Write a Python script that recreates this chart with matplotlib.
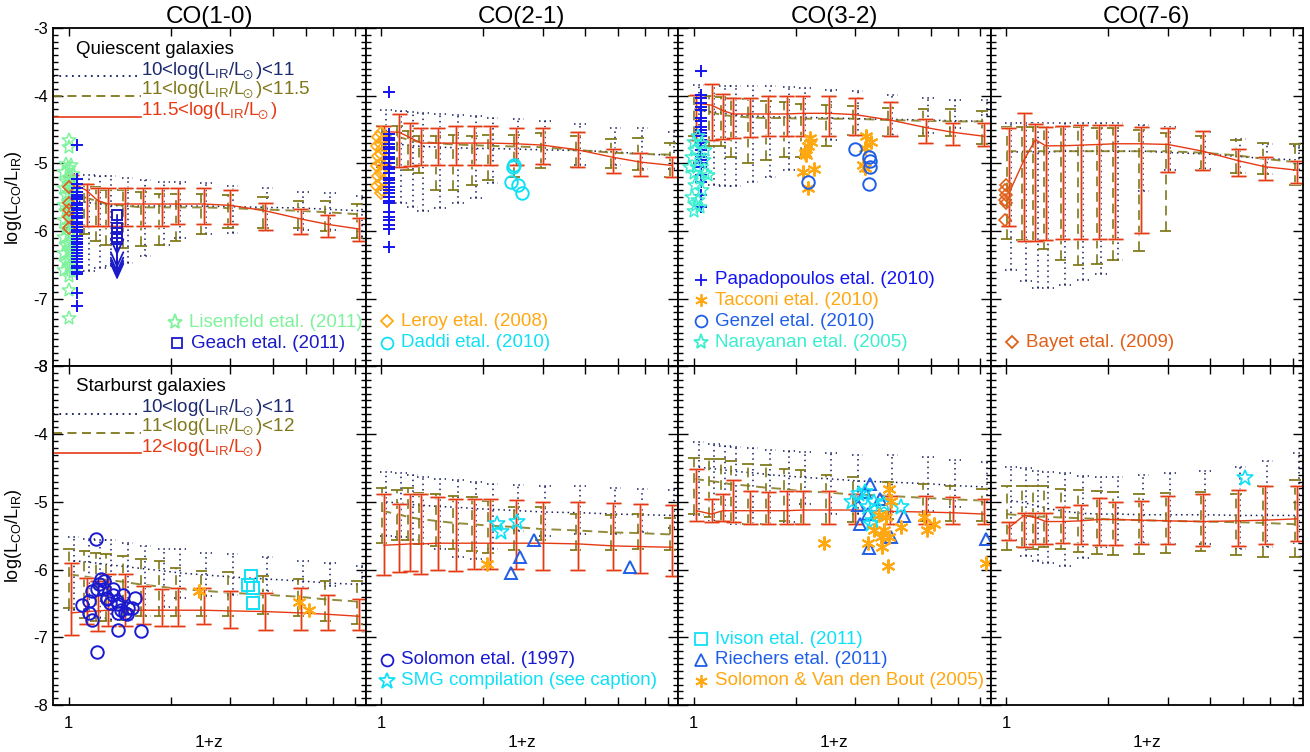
import matplotlib
matplotlib.use("Agg")
import numpy as np
import matplotlib.pyplot as plt
from matplotlib.ticker import FixedLocator, FixedFormatter, MultipleLocator, NullFormatter

plt.rcParams['font.family'] = ['Liberation Sans', 'DejaVu Sans']
plt.rcParams['axes.unicode_minus'] = False
plt.rcParams['mathtext.default'] = 'regular'

# ---------------- model grid (1+z) ----------------
zgrid = [1.02, 1.13, 1.22, 1.31, 1.47, 1.66, 1.88, 2.10, 2.50, 3.00, 3.80, 4.83, 5.80, 7.20]

# ---------------- Quiescent CO(1-0) ----------------
q10_dot_mid = [-5.55, -5.58, -5.60, -5.62, -5.63, -5.63, -5.63, -5.63, -5.63, -5.64, -5.65, -5.66, -5.68, -5.70]
q10_dot_hi = [-5.15, -5.17, -5.18, -5.19, -5.22, -5.25, -5.27, -5.27, -5.29, -5.33, -5.36, -5.42, -5.43, -5.48]
q10_dot_lo = [-6.45, -6.59, -6.55, -6.52, -6.47, -6.37, -6.20, -6.10, -6.05, -6.03, -6.00, -5.98, -5.98, -6.08]
q10_ols_mid = [-5.45, -5.50, -5.55, -5.60, -5.62, -5.65, -5.65, -5.65, -5.65, -5.66, -5.68, -5.70, -5.72, -5.75]
q10_ols_hi = [-5.20, -5.30, -5.35, -5.40, -5.40, -5.42, -5.45, -5.45, -5.45, -5.47, -5.50, -5.55, -5.55, -5.60]
q10_ols_lo = [-5.95, -6.05, -6.15, -6.20, -6.25, -6.22, -6.20, -6.15, -6.05, -5.95, -5.95, -5.95, -6.00, -6.10]
q10_red_mid = [-5.28, -5.40, -5.55, -5.60, -5.60, -5.60, -5.60, -5.60, -5.60, -5.62, -5.70, -5.82, -5.90, -5.97]
q10_red_hi = [-5.17, -5.30, -5.36, -5.36, -5.36, -5.36, -5.36, -5.37, -5.37, -5.39, -5.58, -5.68, -5.76, -5.80]
q10_red_lo = [-5.90, -5.92, -5.92, -5.92, -5.92, -5.92, -5.92, -5.90, -5.90, -5.90, -5.98, -6.05, -6.09, -6.15]

# ---------------- Quiescent CO(2-1) ----------------
q21_dot_mid = [-4.70, -4.72, -4.74, -4.75, -4.76, -4.77, -4.78, -4.78, -4.79, -4.80, -4.81, -4.83, -4.86, -4.88]
q21_dot_hi = [-4.21, -4.22, -4.24, -4.26, -4.27, -4.28, -4.30, -4.33, -4.35, -4.38, -4.42, -4.47, -4.48, -4.53]
q21_dot_lo = [-5.40, -5.59, -5.65, -5.71, -5.66, -5.59, -5.51, -5.29, -5.02, -5.02, -5.02, -5.02, -5.09, -5.09]
q21_ols_mid = [-4.58, -4.60, -4.65, -4.68, -4.70, -4.72, -4.73, -4.74, -4.75, -4.76, -4.80, -4.84, -4.86, -4.87]
q21_ols_hi = [-4.45, -4.45, -4.52, -4.60, -4.60, -4.58, -4.60, -4.58, -4.58, -4.55, -4.59, -4.64, -4.63, -4.70]
q21_ols_lo = [-5.05, -5.05, -5.10, -5.14, -5.39, -5.39, -5.32, -5.24, -5.20, -5.07, -5.05, -5.07, -5.10, -5.20]
q21_red_mid = [-4.53, -4.54, -4.62, -4.70, -4.70, -4.70, -4.70, -4.70, -4.71, -4.73, -4.80, -4.91, -4.98, -5.03]
q21_red_hi = [-4.45, -4.27, -4.40, -4.47, -4.47, -4.45, -4.45, -4.45, -4.47, -4.48, -4.53, -4.78, -4.84, -4.90]
q21_red_lo = [-5.02, -5.05, -5.04, -5.03, -5.03, -5.03, -5.03, -5.03, -5.03, -5.01, -5.05, -5.14, -5.18, -5.20]

# ---------------- Quiescent CO(3-2) ----------------
q32_dot_mid = [-4.22, -4.24, -4.26, -4.28, -4.30, -4.31, -4.32, -4.32, -4.33, -4.34, -4.35, -4.36, -4.37, -4.38]
q32_dot_hi = [-3.84, -3.84, -3.85, -3.85, -3.86, -3.86, -3.87, -3.88, -3.91, -3.93, -3.99, -4.04, -4.06, -4.06]
q32_dot_lo = [-5.00, -5.32, -5.34, -5.34, -5.27, -5.20, -5.10, -4.92, -4.65, -4.60, -4.58, -4.55, -4.48, -4.28]
q32_ols_mid = [-4.20, -4.24, -4.28, -4.30, -4.32, -4.33, -4.33, -4.34, -4.34, -4.34, -4.36, -4.37, -4.38, -4.38]
q32_ols_hi = [-4.01, -4.01, -4.02, -4.04, -4.05, -4.08, -4.10, -4.12, -4.14, -4.15, -4.18, -4.20, -4.20, -4.22]
q32_ols_lo = [-4.60, -4.75, -4.75, -4.90, -5.00, -4.95, -4.90, -4.90, -4.75, -4.58, -4.60, -4.60, -4.60, -4.72]
q32_red_mid = [-4.11, -4.14, -4.22, -4.27, -4.27, -4.27, -4.27, -4.26, -4.26, -4.28, -4.36, -4.47, -4.54, -4.60]
q32_red_hi = [-3.99, -3.83, -3.98, -4.03, -4.03, -4.00, -4.01, -4.01, -4.01, -4.04, -4.09, -4.34, -4.40, -4.41]
q32_red_lo = [-4.65, -4.65, -4.64, -4.63, -4.61, -4.60, -4.60, -4.60, -4.59, -4.58, -4.60, -4.70, -4.73, -4.75]

# ---------------- Quiescent CO(7-6) ----------------
q76_dot_mid = [-4.83, -4.83, -4.83, -4.83, -4.82, -4.82, -4.82, -4.82, -4.82, -4.84, -4.86, -4.90, -4.93, -4.95]
q76_dot_hi = [-4.40, -4.40, -4.40, -4.40, -4.40, -4.40, -4.40, -4.41, -4.43, -4.46, -4.53, -4.64, -4.72, -4.75]
q76_dot_lo = [-6.57, -6.74, -6.84, -6.84, -6.80, -6.72, -6.64, -6.42, -5.41, -5.10, -5.08, -5.14, -5.15, -5.10]
q76_ols_mid = [-4.82, -4.82, -4.82, -4.82, -4.82, -4.82, -4.82, -4.82, -4.82, -4.82, -4.84, -4.88, -4.93, -4.98]
q76_ols_hi = [-4.46, -4.46, -4.46, -4.46, -4.46, -4.46, -4.47, -4.47, -4.50, -4.55, -4.60, -4.66, -4.70, -4.72]
q76_ols_lo = [-6.12, -6.13, -6.15, -6.27, -6.42, -6.50, -6.48, -6.42, -6.30, -6.00, -5.10, -5.14, -5.16, -5.32]
q76_red_mid = [-5.44, -4.95, -4.65, -4.74, -4.74, -4.73, -4.72, -4.71, -4.71, -4.72, -4.82, -4.96, -5.05, -5.10]
q76_red_hi = [-4.48, -4.26, -4.42, -4.46, -4.45, -4.43, -4.44, -4.44, -4.46, -4.47, -4.52, -4.79, -4.90, -4.96]
q76_red_lo = [-5.92, -6.15, -6.15, -6.13, -6.12, -6.12, -6.12, -6.12, -6.03, -5.13, -5.10, -5.19, -5.24, -5.29]

# ---------------- Starburst CO(1-0) ----------------
s10_dot_mid = [-5.87, -5.89, -5.91, -5.93, -5.96, -5.99, -6.02, -6.05, -6.08, -6.11, -6.14, -6.17, -6.20, -6.22]
s10_dot_hi = [-5.52, -5.55, -5.57, -5.57, -5.60, -5.65, -5.70, -5.70, -5.75, -5.77, -5.82, -5.87, -5.90, -5.95]
s10_dot_lo = [-6.60, -6.69, -6.71, -6.74, -6.74, -6.69, -6.55, -6.42, -6.39, -6.37, -6.32, -6.27, -6.24, -6.22]
s10_ols_mid = [-6.07, -6.10, -6.13, -6.15, -6.18, -6.22, -6.25, -6.28, -6.31, -6.34, -6.37, -6.40, -6.44, -6.47]
s10_ols_hi = [-5.70, -5.72, -5.75, -5.77, -5.80, -5.85, -5.87, -5.97, -6.02, -6.04, -6.09, -6.14, -6.17, -6.17]
s10_ols_lo = [-6.56, -6.71, -6.76, -6.76, -6.74, -6.69, -6.69, -6.69, -6.69, -6.69, -6.66, -6.69, -6.76, -6.81]
s10_red_mid = [-6.64, -6.62, -6.61, -6.60, -6.60, -6.60, -6.60, -6.60, -6.60, -6.61, -6.62, -6.64, -6.66, -6.69]
s10_red_hi = [-5.90, -6.12, -6.17, -6.07, -6.07, -6.24, -6.29, -6.27, -6.27, -6.32, -6.34, -6.27, -6.37, -6.44]
s10_red_lo = [-6.96, -6.81, -6.91, -6.84, -6.84, -6.81, -6.84, -6.84, -6.81, -6.86, -6.89, -6.89, -6.89, -6.89]

# ---------------- Starburst CO(2-1) ----------------
s21_dot_mid = [-5.00, -5.02, -5.04, -5.05, -5.07, -5.08, -5.10, -5.11, -5.13, -5.15, -5.16, -5.18, -5.19, -5.20]
s21_dot_hi = [-4.56, -4.57, -4.61, -4.63, -4.66, -4.68, -4.71, -4.73, -4.75, -4.76, -4.77, -4.79, -4.81, -4.83]
s21_dot_lo = [-5.50, -5.52, -5.57, -5.62, -5.70, -5.82, -5.85, -5.70, -5.43, -5.50, -5.48, -5.48, -5.45, -5.38]
s21_ols_mid = [-5.13, -5.18, -5.22, -5.25, -5.28, -5.31, -5.33, -5.35, -5.37, -5.40, -5.42, -5.45, -5.46, -5.48]
s21_ols_hi = [-4.79, -4.82, -4.79, -4.87, -4.89, -4.92, -4.93, -4.98, -5.08, -5.08, -5.18, -5.20, -5.18, -5.24]
s21_ols_lo = [-5.60, -5.57, -5.57, -5.62, -5.65, -5.70, -5.72, -5.75, -5.71, -5.57, -5.71, -5.71, -5.70, -5.71]
s21_red_mid = [-5.64, -5.63, -5.62, -5.62, -5.61, -5.61, -5.61, -5.61, -5.61, -5.61, -5.62, -5.65, -5.66, -5.67]
s21_red_hi = [-4.89, -5.03, -4.89, -4.89, -4.93, -4.96, -4.96, -4.96, -4.97, -5.00, -5.00, -5.02, -5.03, -5.04]
s21_red_lo = [-6.08, -6.03, -6.02, -6.06, -6.01, -6.02, -5.99, -5.99, -5.99, -6.00, -6.01, -6.01, -6.05, -6.09]

# ---------------- Starburst CO(3-2) ----------------
s32_dot_mid = [-4.49, -4.51, -4.53, -4.55, -4.57, -4.60, -4.62, -4.64, -4.66, -4.69, -4.71, -4.73, -4.76, -4.78]
s32_dot_hi = [-4.11, -4.14, -4.18, -4.19, -4.20, -4.23, -4.25, -4.26, -4.28, -4.30, -4.31, -4.34, -4.38, -4.41]
s32_dot_lo = [-5.20, -5.28, -5.30, -5.33, -5.33, -5.33, -5.30, -5.03, -5.18, -5.18, -5.15, -5.13, -5.08, -4.98]
s32_ols_mid = [-4.66, -4.69, -4.71, -4.74, -4.76, -4.79, -4.81, -4.84, -4.86, -4.89, -4.91, -4.94, -4.96, -4.98]
s32_ols_hi = [-4.35, -4.36, -4.36, -4.39, -4.44, -4.46, -4.51, -4.53, -4.61, -4.63, -4.71, -4.73, -4.76, -4.81]
s32_ols_lo = [-5.18, -5.23, -5.28, -5.30, -5.33, -5.33, -5.28, -5.33, -5.33, -5.30, -5.25, -5.28, -5.28, -5.28]
s32_red_mid = [-5.13, -5.18, -5.13, -5.13, -5.13, -5.13, -5.13, -5.12, -5.12, -5.12, -5.14, -5.15, -5.16, -5.18]
s32_red_hi = [-4.51, -4.96, -4.88, -4.68, -4.84, -4.86, -4.84, -4.84, -4.84, -4.88, -4.91, -4.92, -4.93, -4.96]
s32_red_lo = [-5.28, -5.30, -5.28, -5.30, -5.32, -5.33, -5.33, -5.33, -5.33, -5.33, -5.33, -5.33, -5.33, -5.33]

# ---------------- Starburst CO(7-6) ----------------
s76_dot_mid = [-4.98, -5.02, -5.06, -5.10, -5.14, -5.17, -5.18, -5.18, -5.19, -5.19, -5.19, -5.20, -5.20, -5.20]
s76_dot_hi = [-4.49, -4.50, -4.54, -4.56, -4.57, -4.62, -4.63, -4.63, -4.61, -4.57, -4.54, -4.48, -4.40, -4.28]
s76_dot_lo = [-5.57, -5.80, -5.87, -5.90, -5.95, -5.83, -5.67, -5.65, -5.60, -5.62, -5.62, -5.70, -5.67, -5.60]
s76_ols_mid = [-5.18, -5.20, -5.21, -5.22, -5.23, -5.24, -5.25, -5.26, -5.27, -5.28, -5.29, -5.30, -5.31, -5.33]
s76_ols_hi = [-4.76, -4.76, -4.76, -4.77, -4.81, -4.83, -4.84, -4.86, -4.88, -4.87, -4.86, -4.88, -4.76, -4.68]
s76_ols_lo = [-5.71, -5.67, -5.69, -5.66, -5.70, -5.74, -5.77, -5.79, -5.77, -5.75, -5.72, -5.78, -5.81, -5.82]
s76_red_mid = [-5.38, -5.20, -5.23, -5.29, -5.29, -5.28, -5.26, -5.26, -5.27, -5.28, -5.29, -5.28, -5.27, -5.25]
s76_red_hi = [-5.30, -5.16, -5.16, -5.16, -5.08, -5.04, -4.94, -5.00, -4.99, -4.92, -4.88, -4.82, -4.76, -4.76]
s76_red_lo = [-5.57, -5.67, -5.62, -5.62, -5.61, -5.62, -5.63, -5.63, -5.62, -5.62, -5.65, -5.65, -5.62, -5.58]

# ---------------- observations ----------------
lisenfeld_y = [-4.66, -4.76, -5.01, -5.03, -5.07, -5.13, -5.15, -5.21, -5.26, -5.27, -5.31, -5.37,
               -5.41, -5.43, -5.47, -5.53, -5.55, -5.61, -5.63, -5.66, -5.71, -5.77, -5.79, -5.83,
               -5.89, -5.91, -5.97, -6.02, -6.04, -6.09, -6.13, -6.18, -6.21, -6.23, -6.29, -6.33,
               -6.37, -6.41, -6.46, -6.49, -6.53, -6.58, -6.61, -6.66, -6.87, -7.29]
lisenfeld_x = [1.00, 1.00, 0.98, 1.02, 1.00, 0.97, 1.03, 1.00, 0.98, 1.02, 1.00, 0.97,
               1.03, 1.00, 0.98, 1.02, 1.00, 0.97, 1.03, 1.00, 0.98, 1.02, 1.00, 0.97,
               1.03, 1.00, 0.98, 1.02, 1.00, 0.97, 1.03, 1.00, 0.98, 1.02, 1.00, 0.97,
               1.03, 1.00, 0.98, 1.02, 1.00, 0.97, 1.03, 1.00, 1.00, 1.00]
q10_diam_x = [1.00, 1.00, 1.00, 1.00, 1.00]
q10_diam_y = [-5.35, -5.59, -5.69, -5.79, -5.95]
papa_q10_x = 1.06
papa_q10_y = [-4.73, -5.23, -5.31, -5.36, -5.42, -5.47, -5.49, -5.53, -5.58, -5.62, -5.66, -5.69,
              -5.74, -5.78, -5.81, -5.86, -5.90, -5.94, -5.99, -6.02, -6.07, -6.11, -6.16, -6.19,
              -6.24, -6.28, -6.33, -6.37, -6.41, -6.46, -6.51, -6.55, -6.60, -6.64, -6.91, -7.10]
geach_x = [1.39, 1.39, 1.39, 1.39, 1.39]
geach_y = [-5.76, -5.95, -6.03, -6.08, -6.12]

leroy_x = [1.00, 0.98, 1.02, 1.00, 0.97, 1.01, 1.00, 0.98, 1.02, 1.00, 0.97, 1.01, 1.00, 0.98, 1.02, 1.00, 0.97, 1.01, 1.00]
leroy_y = [-4.55, -4.61, -4.64, -4.71, -4.74, -4.79, -4.86, -4.89, -4.96, -5.01, -5.04, -5.11, -5.14,
           -5.19, -5.26, -5.29, -5.34, -5.39, -5.44]
papa_q21_x = 1.057
papa_q21_y = [-3.94, -4.56, -4.62, -4.66, -4.71, -4.76, -4.79, -4.85, -4.91, -4.94, -4.99, -5.06,
              -5.09, -5.14, -5.21, -5.24, -5.29, -5.35, -5.39, -5.44, -5.49, -5.55, -5.59, -5.72,
              -5.79, -5.84, -5.91, -5.97, -6.23]
daddi_x = [2.46, 2.45, 2.41, 2.53, 2.60]
daddi_y = [-5.02, -5.05, -5.28, -5.32, -5.43]

papa_q32_x = 1.053
papa_q32_y = [-3.64, -3.99, -4.04, -4.11, -4.16, -4.21, -4.33, -4.38, -4.46, -4.50, -4.55, -4.59,
              -4.65, -4.70, -4.74, -4.80, -4.86, -4.90, -4.95, -5.00, -5.05, -5.17, -5.27, -5.46, -5.64]
narayanan_x = [1.034, 1.000, 1.057, 1.011, 0.989, 1.070, 1.023, 1.000, 1.106, 1.046, 1.011, 1.057,
               0.989, 1.034, 1.046, 1.000, 0.978, 1.082, 1.080, 1.020]
narayanan_y = [-4.60, -4.68, -4.70, -4.80, -4.90, -4.95, -5.05, -5.14, -5.17, -5.22, -5.32, -5.39,
               -5.49, -5.54, -5.64, -5.71, -5.05, -4.80, -5.14, -5.62]
tacconi_x = [2.20, 2.22, 2.17, 2.13, 2.15, 2.10, 2.27, 2.17, 3.22, 3.33, 3.19, 3.15, 3.19]
tacconi_y = [-4.63, -4.69, -4.75, -4.85, -4.87, -5.13, -5.09, -5.36, -4.60, -4.68, -4.77, -5.02, -5.07]
genzel_x = [2.17, 3.00, 3.30, 3.32, 3.32, 3.28]
genzel_y = [-5.27, -4.79, -4.90, -4.97, -5.05, -5.31]

bayet_x = [1.00, 0.99, 1.00, 0.99, 1.00, 0.99]
bayet_y = [-5.32, -5.39, -5.46, -5.54, -5.59, -5.83]

solomon_x = [1.094, 1.152, 1.152, 1.17, 1.17, 1.206, 1.21, 1.21, 1.23, 1.25, 1.27, 1.27, 1.30, 1.30,
             1.325, 1.355, 1.355, 1.386, 1.40, 1.40, 1.40, 1.43, 1.45, 1.47, 1.49, 1.50, 1.535, 1.57, 1.64]
solomon_y = [-6.52, -6.47, -6.64, -6.74, -6.31, -5.55, -7.21, -6.29, -6.22, -6.14, -6.17, -6.29, -6.44,
             -6.42, -6.49, -6.37, -6.29, -6.47, -6.64, -6.89, -6.51, -6.59, -6.37, -6.64, -6.66, -6.56,
             -6.56, -6.42, -6.90]
ivison_x = [3.46, 3.39, 3.50, 3.49]
ivison_y = [-6.09, -6.23, -6.27, -6.49]
sv05_s10_x = [2.43, 4.77, 5.10]
sv05_s10_y = [-6.31, -6.48, -6.60]

smg_s21_x = [2.20, 2.25, 2.52]
smg_s21_y = [-5.33, -5.45, -5.30]
riechers_s21_x = [2.83, 2.57, 2.41, 5.41]
riechers_s21_y = [-5.57, -5.82, -6.05, -5.96]
sv05_s21_x = [2.05]
sv05_s21_y = [-5.91]

riechers_s32_x = [3.32, 3.19, 3.06, 3.26, 3.10, 4.17, 3.55, 3.82, 3.28, 7.25]
riechers_s32_y = [-4.73, -4.86, -5.05, -5.18, -5.33, -5.21, -4.95, -5.52, -5.68, -5.55]
smg_s32_x = [2.94, 3.08, 3.26, 3.41, 3.49, 3.37, 4.08, 3.65, 3.19, 3.34]
smg_s32_y = [-5.00, -4.88, -5.08, -5.00, -5.18, -5.28, -5.08, -5.03, -4.85, -5.32]
sv05_s32_x = [3.77, 3.82, 3.69, 3.52, 4.08, 3.65, 3.41, 3.56, 3.77, 3.26, 3.60, 3.73, 4.77, 4.88, 5.12, 2.43, 7.25]
sv05_s32_y = [-4.81, -4.98, -5.23, -5.20, -5.37, -5.42, -5.42, -5.52, -5.52, -5.60, -5.66, -5.95, -5.23,
              -5.42, -5.32, -5.60, -5.90]

smg_s76_x = [5.05]
smg_s76_y = [-4.65]

titles = ['CO(1-0)', 'CO(2-1)', 'CO(3-2)', 'CO(7-6)']
SUN = 'L$_{\\!\\!\\odot}$'
q_labels = ['10<log(L$_{IR}$/' + SUN + ')<11', '11<log(L$_{IR}$/' + SUN + ')<11.5', '11.5<log(L$_{IR}$/' + SUN + ')']
s_labels = ['10<log(L$_{IR}$/' + SUN + ')<11', '11<log(L$_{IR}$/' + SUN + ')<12', '12<log(L$_{IR}$/' + SUN + ')']

# ---------------- colours / styles ----------------
C_DOT = '#141c5c'
C_OLS = '#7f7719'
C_RED = '#e63a14'
C_SAL = '#f4a894'
C_LIS = '#7ff29c'
C_PAPA = '#1414f0'
C_GEACH = '#1a1ac8'
C_SOL = '#1a1ad0'
C_GEN = '#1f5fe8'
C_CYAN = '#10e0f5'
C_NAR = '#3aeed0'
C_ORA = '#ffa812'
C_BAY = '#e0601a'
DOT = (0, (1, 2.5))
DASH = (0, (5, 3))
FS = 13.5

fig = plt.figure(figsize=(13.1, 7.52), dpi=100)
gs = fig.add_gridspec(2, 4, left=53 / 1310, right=1303 / 1310, top=1 - 28 / 752, bottom=1 - 705 / 752,
                      hspace=0, wspace=0)
axes = [[fig.add_subplot(gs[r, c]) for c in range(4)] for r in range(2)]


def model(ax, mid, lo, hi, kind):
    x = np.array(zgrid)
    if kind == 'dot':
        xs = x * 1.015
        f = 10 ** 0.017
        ax.vlines(xs, lo, hi, colors=C_DOT, linestyles=DOT, lw=1.1)
        ax.hlines(lo, xs / f, xs * f, colors=C_DOT, linestyles=DOT, lw=1.1)
        ax.hlines(hi, xs / f, xs * f, colors=C_DOT, linestyles=DOT, lw=1.1)
        ax.plot(xs, mid, color=C_DOT, ls=DOT, lw=1.1)
    elif kind == 'ols':
        xs = x * 0.985
        f = 10 ** 0.017
        ax.vlines(xs, lo, hi, colors=C_OLS, linestyles=DASH, lw=1.4, alpha=0.85)
        ax.hlines(lo, xs / f, xs * f, colors=C_OLS, lw=1.4, alpha=0.9)
        ax.hlines(hi, xs / f, xs * f, colors=C_OLS, lw=1.4, alpha=0.9)
        ax.plot(xs, mid, color=C_OLS, ls=DASH, lw=1.4, alpha=0.85)
    else:
        xs = x
        f = 10 ** 0.022
        ax.vlines(xs, lo, hi, colors=C_SAL, lw=1.9)
        ax.hlines(lo, xs / f, xs * f, colors=C_SAL, lw=1.9)
        ax.hlines(hi, xs / f, xs * f, colors=C_SAL, lw=1.9)
        ax.vlines(xs, lo, hi, colors=C_RED, lw=0.8)
        ax.hlines(lo, xs / f, xs * f, colors=C_RED, lw=0.8)
        ax.hlines(hi, xs / f, xs * f, colors=C_RED, lw=0.8)
        ax.plot(xs, mid, color=C_RED, lw=1.0)


def pts(ax, x, y, marker, color, ms=8, mew=1.3):
    if np.ndim(x) == 0:
        x = [x] * len(y)
    ax.plot(x, y, ls='none', marker=marker, mfc='none', mec=color, ms=ms, mew=mew, zorder=5)


def legpt(ax, xf, yf, marker, color, text, ms=8):
    ax.plot([xf], [yf], transform=ax.transAxes, marker=marker, mfc='none', mec=color, ms=ms, mew=1.3,
            ls='none', zorder=6, clip_on=False)
    ax.text(xf + 0.045, yf, text, transform=ax.transAxes, color=color, fontsize=FS, va='center', ha='left',
            zorder=6)


AST = (6, 2, 0)

panel_data = [
    [(q10_dot_mid, q10_dot_lo, q10_dot_hi), (q10_ols_mid, q10_ols_lo, q10_ols_hi), (q10_red_mid, q10_red_lo, q10_red_hi)],
    [(q21_dot_mid, q21_dot_lo, q21_dot_hi), (q21_ols_mid, q21_ols_lo, q21_ols_hi), (q21_red_mid, q21_red_lo, q21_red_hi)],
    [(q32_dot_mid, q32_dot_lo, q32_dot_hi), (q32_ols_mid, q32_ols_lo, q32_ols_hi), (q32_red_mid, q32_red_lo, q32_red_hi)],
    [(q76_dot_mid, q76_dot_lo, q76_dot_hi), (q76_ols_mid, q76_ols_lo, q76_ols_hi), (q76_red_mid, q76_red_lo, q76_red_hi)],
    [(s10_dot_mid, s10_dot_lo, s10_dot_hi), (s10_ols_mid, s10_ols_lo, s10_ols_hi), (s10_red_mid, s10_red_lo, s10_red_hi)],
    [(s21_dot_mid, s21_dot_lo, s21_dot_hi), (s21_ols_mid, s21_ols_lo, s21_ols_hi), (s21_red_mid, s21_red_lo, s21_red_hi)],
    [(s32_dot_mid, s32_dot_lo, s32_dot_hi), (s32_ols_mid, s32_ols_lo, s32_ols_hi), (s32_red_mid, s32_red_lo, s32_red_hi)],
    [(s76_dot_mid, s76_dot_lo, s76_dot_hi), (s76_ols_mid, s76_ols_lo, s76_ols_hi), (s76_red_mid, s76_red_lo, s76_red_hi)],
]

for r in range(2):
    for c in range(4):
        ax = axes[r][c]
        ax.set_xscale('log')
        ax.set_xlim(0.9, 7.5)
        ax.set_ylim(-8, -3)
        for (m, lo, hi), kind in zip(panel_data[r * 4 + c], ['dot', 'ols', 'red']):
            model(ax, m, lo, hi, kind)
        ax.xaxis.set_major_locator(FixedLocator([1]))
        ax.xaxis.set_major_formatter(FixedFormatter(['1']))
        ax.xaxis.set_minor_locator(FixedLocator([2, 3, 4, 5, 6, 7]))
        ax.xaxis.set_minor_formatter(NullFormatter())
        ax.yaxis.set_major_locator(MultipleLocator(1))
        ax.yaxis.set_minor_locator(MultipleLocator(0.1))
        ax.tick_params(which='both', direction='in', top=True, right=True, width=1.0, labelsize=12)
        ax.tick_params(axis='x', which='both', length=6, pad=8)
        ax.tick_params(axis='y', which='major', length=7.5, pad=3.5)
        ax.tick_params(axis='y', which='minor', length=3.8)
        for s in ax.spines.values():
            s.set_linewidth(1.3)
        if c != 0:
            ax.tick_params(labelleft=False)
        else:
            ax.set_ylabel('log(L$_{CO}$/L$_{IR}$)', fontsize=13, labelpad=7)
        if r == 0:
            ax.tick_params(labelbottom=False)
            ax.set_title(titles[c], fontsize=17.5, pad=2)
        else:
            ax.set_xlabel('1+z', fontsize=12.5, labelpad=3)

# ---- legends of model lines ----
for r, (head, labels, ys) in enumerate([('Quiescent galaxies', q_labels, (0.858, 0.800, 0.738)),
                                         ('Starburst galaxies', s_labels, (0.861, 0.804, 0.743))]):
    ax = axes[r][0]
    ax.text(0.074, 0.937 if r == 0 else 0.94, head, transform=ax.transAxes, fontsize=FS, va='center', ha='left')
    for lab, yy, col, ls in zip(labels, ys, [C_DOT, C_OLS, C_RED], [DOT, DASH, '-']):
        ax.plot([0.0, 0.28], [yy, yy], transform=ax.transAxes, color=col, ls=ls, lw=1.3 if ls != '-' else 1.2)
        ax.text(0.283, yy + 0.004, lab, transform=ax.transAxes, color=col if col != C_DOT else '#1c2a6e',
                fontsize=FS, va='baseline', ha='left')

# ---- Quiescent CO(1-0) observations ----
ax = axes[0][0]
pts(ax, lisenfeld_x, lisenfeld_y, '*', C_LIS, ms=10.5, mew=1.1)
pts(ax, q10_diam_x, q10_diam_y, 'D', C_BAY, ms=6.5, mew=1.2)
pts(ax, papa_q10_x, papa_q10_y, '+', C_PAPA, ms=8, mew=1.4)
pts(ax, geach_x, geach_y, 's', C_GEACH, ms=7.5, mew=1.4)
for gx, gy in zip(geach_x, geach_y):
    ax.annotate('', xy=(gx, gy - 0.6), xytext=(gx, gy),
                arrowprops=dict(arrowstyle='->,head_length=1.0,head_width=0.45', color=C_GEACH, lw=1.3,
                                shrinkA=0, shrinkB=0))
legpt(ax, 0.39, 0.13, '*', C_LIS, 'Lisenfeld etal. (2011)', ms=11)
legpt(ax, 0.397, 0.068, 's', C_GEACH, 'Geach etal. (2011)', ms=7)

# ---- Quiescent CO(2-1) ----
ax = axes[0][1]
pts(ax, leroy_x, leroy_y, 'D', C_ORA, ms=6.5, mew=1.2)
pts(ax, papa_q21_x, papa_q21_y, '+', C_PAPA, ms=8, mew=1.4)
pts(ax, daddi_x, daddi_y, 'o', C_CYAN, ms=9, mew=1.4)
legpt(ax, 0.07, 0.133, 'D', C_ORA, 'Leroy etal. (2008)', ms=6.5)
legpt(ax, 0.07, 0.07, 'o', C_CYAN, 'Daddi etal. (2010)', ms=8.5)

# ---- Quiescent CO(3-2) ----
ax = axes[0][2]
pts(ax, papa_q32_x, papa_q32_y, '+', C_PAPA, ms=8, mew=1.4)
pts(ax, narayanan_x, narayanan_y, '*', C_NAR, ms=10.5, mew=1.1)
pts(ax, tacconi_x, tacconi_y, AST, C_ORA, ms=10, mew=1.5)
pts(ax, genzel_x, genzel_y, 'o', C_GEN, ms=9, mew=1.4)
legpt(ax, 0.074, 0.257, '+', C_PAPA, 'Papadopoulos etal. (2010)', ms=8)
legpt(ax, 0.074, 0.195, AST, C_ORA, 'Tacconi etal. (2010)', ms=9)
legpt(ax, 0.074, 0.133, 'o', C_GEN, 'Genzel etal. (2010)', ms=8.5)
legpt(ax, 0.074, 0.071, '*', C_NAR, 'Narayanan etal. (2005)', ms=11)

# ---- Quiescent CO(7-6) ----
ax = axes[0][3]
pts(ax, bayet_x, bayet_y, 'D', C_BAY, ms=6.5, mew=1.2)
legpt(ax, 0.07, 0.071, 'D', C_BAY, 'Bayet etal. (2009)', ms=6.5)

# ---- Starburst CO(1-0) ----
ax = axes[1][0]
pts(ax, solomon_x, solomon_y, 'o', C_SOL, ms=9, mew=1.4)
pts(ax, ivison_x, ivison_y, 's', C_CYAN, ms=8, mew=1.4)
pts(ax, sv05_s10_x, sv05_s10_y, AST, C_ORA, ms=10, mew=1.5)

# ---- Starburst CO(2-1) ----
ax = axes[1][1]
pts(ax, smg_s21_x, smg_s21_y, '*', C_CYAN, ms=12, mew=1.2)
pts(ax, riechers_s21_x, riechers_s21_y, '^', C_GEN, ms=8.5, mew=1.4)
pts(ax, sv05_s21_x, sv05_s21_y, AST, C_ORA, ms=10, mew=1.5)
legpt(ax, 0.07, 0.134, 'o', C_SOL, 'Solomon etal. (1997)', ms=8.5)
legpt(ax, 0.07, 0.071, '*', C_CYAN, 'SMG compilation (see caption)', ms=12)

# ---- Starburst CO(3-2) ----
ax = axes[1][2]
pts(ax, riechers_s32_x, riechers_s32_y, '^', C_GEN, ms=8.5, mew=1.4)
pts(ax, smg_s32_x, smg_s32_y, '*', C_CYAN, ms=12, mew=1.2)
pts(ax, sv05_s32_x, sv05_s32_y, AST, C_ORA, ms=10, mew=1.5)
legpt(ax, 0.074, 0.194, 's', C_CYAN, 'Ivison etal. (2011)', ms=8)
legpt(ax, 0.074, 0.134, '^', C_GEN, 'Riechers etal. (2011)', ms=8.5)
legpt(ax, 0.074, 0.071, AST, C_ORA, 'Solomon & Van den Bout (2005)', ms=9)

# ---- Starburst CO(7-6) ----
ax = axes[1][3]
pts(ax, smg_s76_x, smg_s76_y, '*', C_CYAN, ms=12, mew=1.2)

fig.savefig('out.png', dpi=100)
